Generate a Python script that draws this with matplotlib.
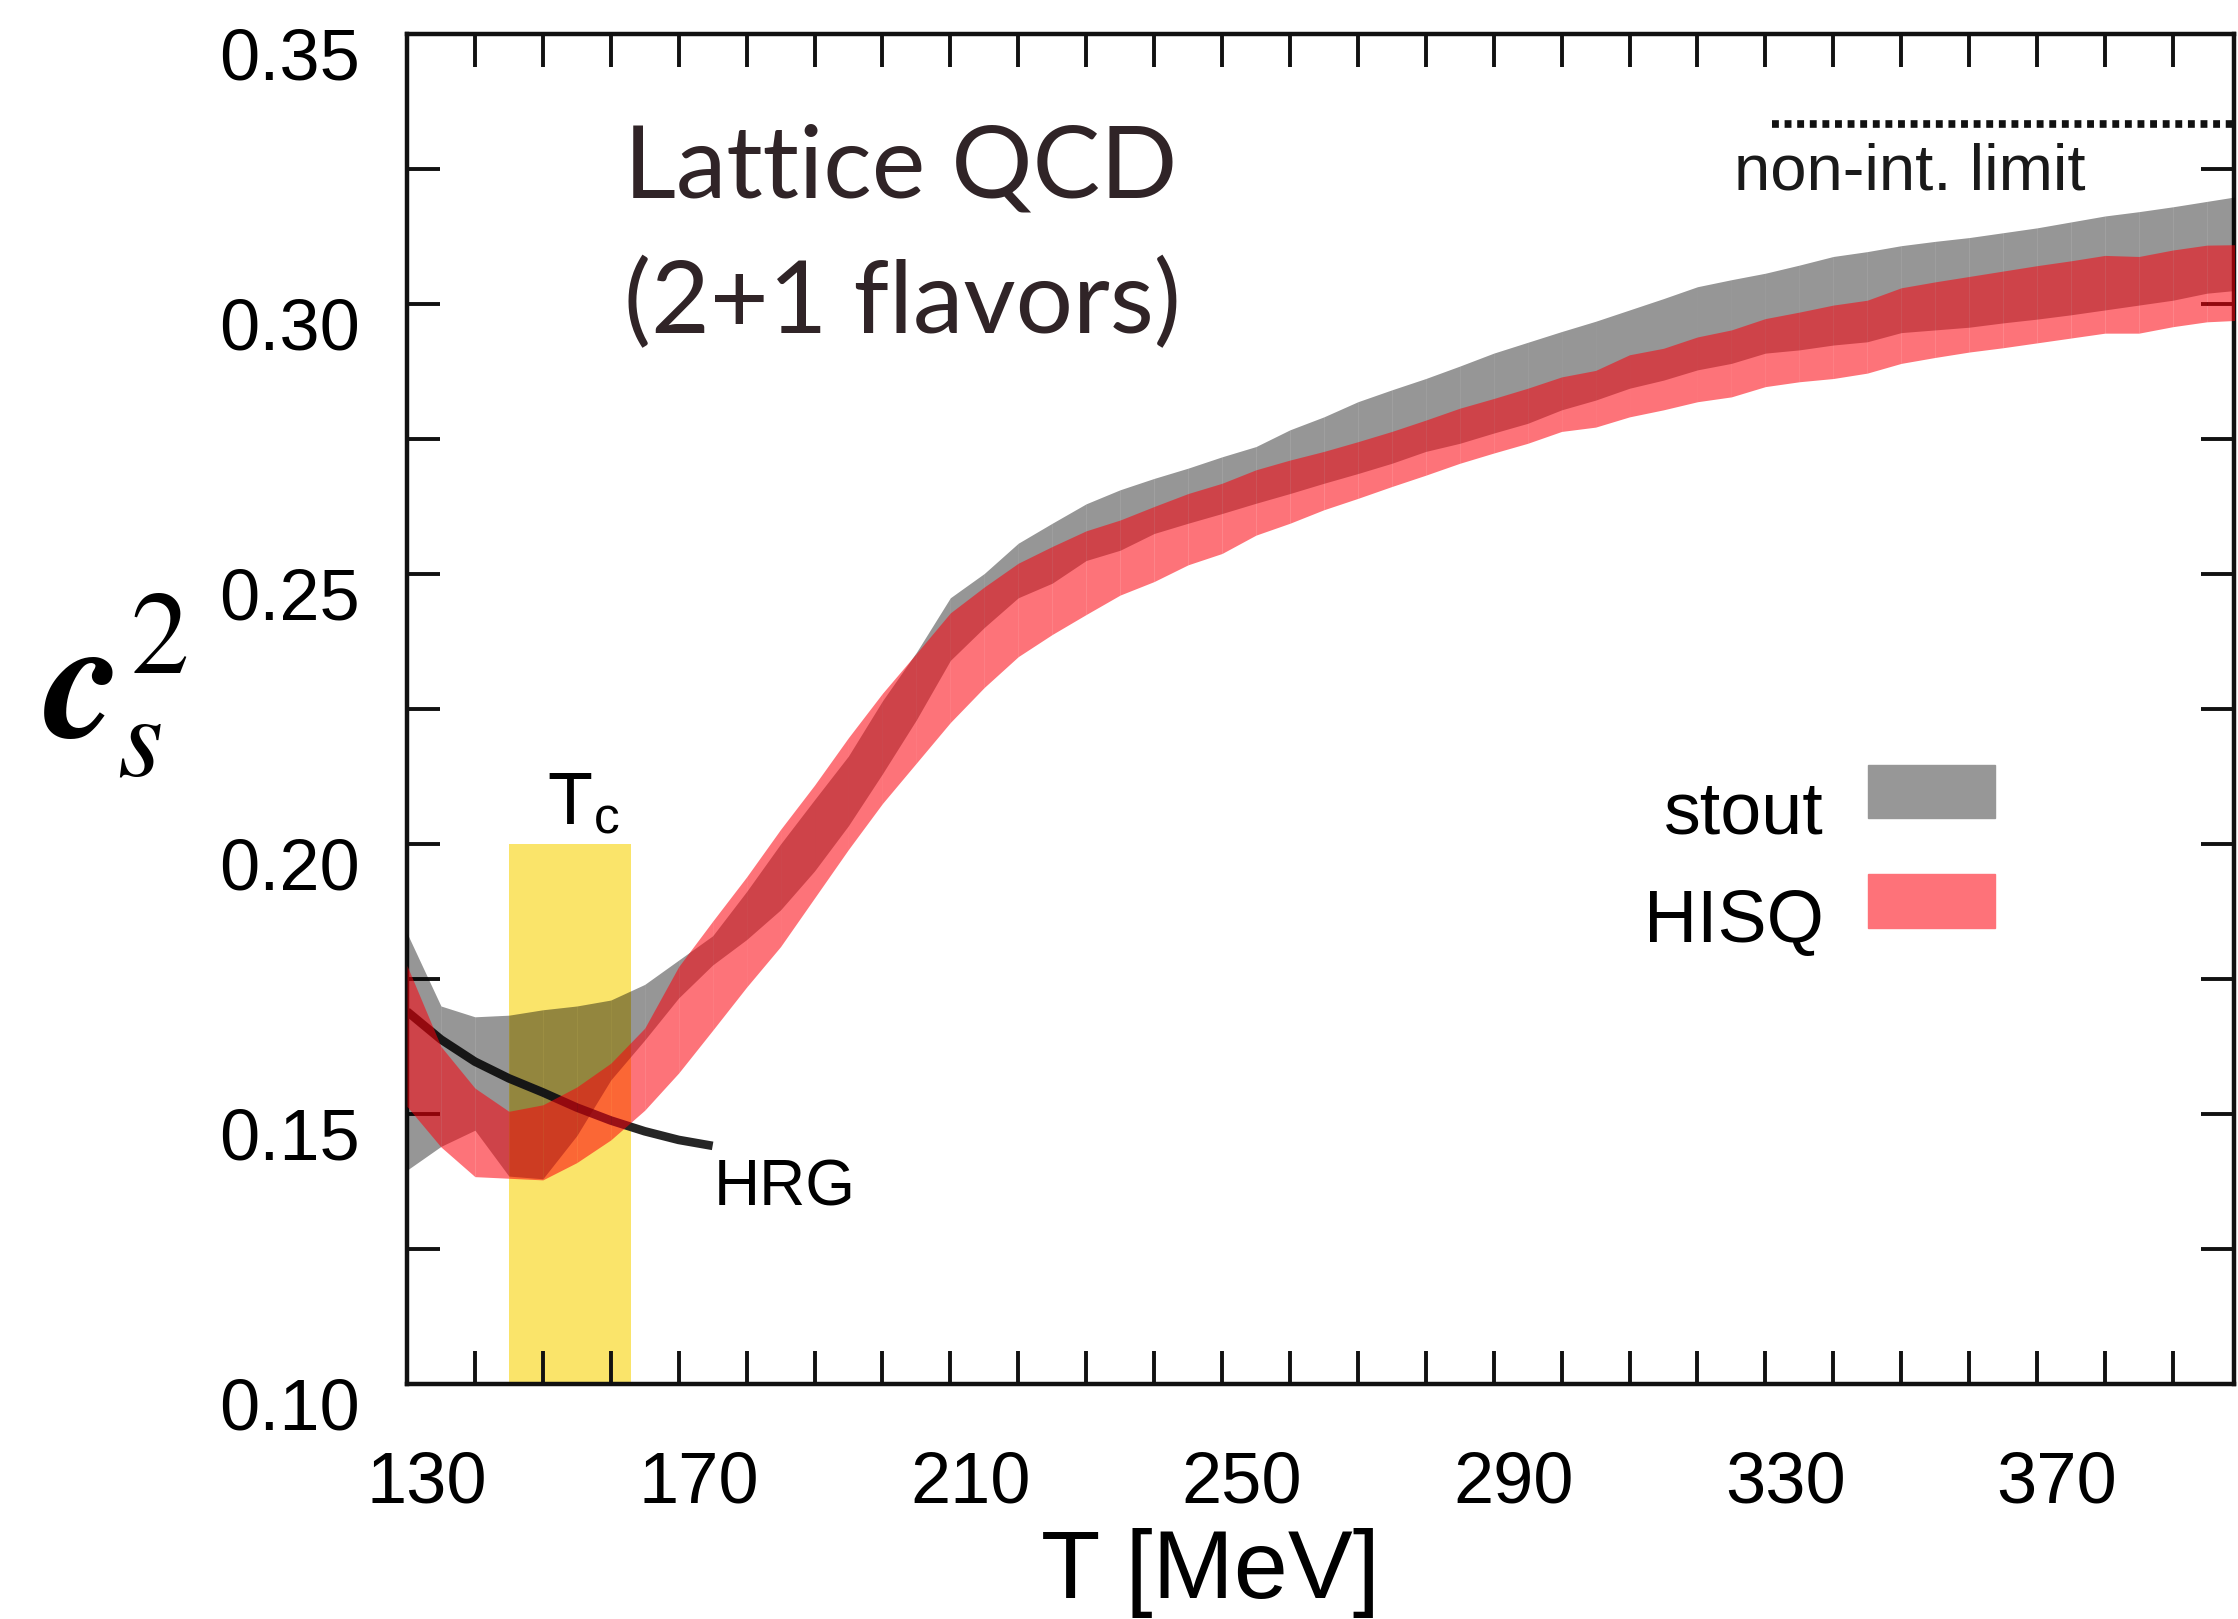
import matplotlib
matplotlib.use("Agg")
import matplotlib.pyplot as plt
from matplotlib.ticker import MultipleLocator, FixedLocator
from matplotlib.transforms import ScaledTranslation

# temperature grid of the lattice bands [MeV]
temps = [130, 135, 140, 145, 150, 155, 160, 165, 170, 175,
         180, 185, 190, 195, 200, 205, 210, 215, 220, 225,
         230, 235, 240, 245, 250, 255, 260, 265, 270, 275,
         280, 285, 290, 295, 300, 305, 310, 315, 320, 325,
         330, 335, 340, 345, 350, 355, 360, 365, 370, 375,
         380, 385, 390, 395, 400]

# stout action band (lower / upper edge of c_s^2)
stout_lo = [0.1396, 0.1440, 0.1470, 0.1385, 0.1380, 0.1460, 0.1563, 0.1637, 0.1715, 0.1776,
            0.1823, 0.1878, 0.1950, 0.2034, 0.2130, 0.2230, 0.2340, 0.2401, 0.2456, 0.2483,
            0.2525, 0.2544, 0.2575, 0.2594, 0.2612, 0.2631, 0.2649, 0.2668, 0.2686, 0.2705,
            0.2727, 0.2742, 0.2761, 0.2779, 0.2804, 0.2822, 0.2844, 0.2859, 0.2878, 0.2890,
            0.2909, 0.2915, 0.2924, 0.2930, 0.2947, 0.2952, 0.2957, 0.2965, 0.2972, 0.2980,
            0.2989, 0.2998, 0.3007, 0.3020, 0.3026]
stout_hi = [0.1835, 0.1700, 0.1680, 0.1683, 0.1693, 0.1700, 0.1711, 0.1740, 0.1785, 0.1830,
            0.1912, 0.2000, 0.2082, 0.2163, 0.2265, 0.2355, 0.2456, 0.2501, 0.2557, 0.2594,
            0.2630, 0.2656, 0.2677, 0.2696, 0.2717, 0.2736, 0.2767, 0.2791, 0.2819, 0.2841,
            0.2862, 0.2885, 0.2909, 0.2929, 0.2949, 0.2968, 0.2989, 0.3010, 0.3032, 0.3045,
            0.3057, 0.3072, 0.3088, 0.3097, 0.3108, 0.3116, 0.3123, 0.3132, 0.3141, 0.3152,
            0.3163, 0.3171, 0.3180, 0.3190, 0.3200]

# HISQ action band
hisq_lo = [0.1514, 0.1439, 0.1384, 0.1381, 0.1378, 0.1410, 0.1452, 0.1507, 0.1576, 0.1655,
           0.1735, 0.1810, 0.1900, 0.1990, 0.2075, 0.2150, 0.2225, 0.2290, 0.2347, 0.2388,
           0.2425, 0.2461, 0.2486, 0.2517, 0.2538, 0.2572, 0.2594, 0.2619, 0.2640, 0.2662,
           0.2683, 0.2705, 0.2724, 0.2742, 0.2764, 0.2772, 0.2791, 0.2804, 0.2819, 0.2828,
           0.2847, 0.2856, 0.2862, 0.2872, 0.2890, 0.2901, 0.2911, 0.2919, 0.2928, 0.2937,
           0.2946, 0.2946, 0.2958, 0.2967, 0.2970]
hisq_hi = [0.1775, 0.1625, 0.1548, 0.1505, 0.1517, 0.1550, 0.1594, 0.1659, 0.1773, 0.1857,
           0.1939, 0.2027, 0.2109, 0.2197, 0.2279, 0.2353, 0.2428, 0.2476, 0.2520, 0.2551,
           0.2580, 0.2600, 0.2625, 0.2649, 0.2668, 0.2693, 0.2711, 0.2727, 0.2745, 0.2764,
           0.2785, 0.2807, 0.2825, 0.2844, 0.2865, 0.2877, 0.2906, 0.2918, 0.2939, 0.2952,
           0.2973, 0.2985, 0.2998, 0.3007, 0.3030, 0.3041, 0.3051, 0.3061, 0.3071, 0.3080,
           0.3090, 0.3088, 0.3100, 0.3109, 0.3110]

# hadron resonance gas curve
hrg_T = [130, 135, 140, 145, 150, 155, 160, 165, 170, 175]
hrg_cs2 = [0.1690, 0.1638, 0.1597, 0.1566, 0.1540, 0.1512, 0.1488, 0.1468, 0.1452, 0.1441]

# crossover region T_c = 154 +- 9 MeV
tc_range = [145, 163]
tc_band_top = 0.20

# Stefan-Boltzmann value
nonint_limit = 1.0 / 3.0
nonint_T = [331, 400]

x_ticks = [130, 170, 210, 250, 290, 330, 370]
y_ticks = [0.10, 0.15, 0.20, 0.25, 0.30, 0.35]

W, H = 2238, 1619


def fx(px):
    return px / W


def fy(py):
    return 1.0 - py / H


plt.rcParams["font.family"] = ["Liberation Sans", "DejaVu Sans"]
plt.rcParams["mathtext.fontset"] = "stix"

fig = plt.figure(figsize=(W / 100, H / 100), dpi=100)
ax = fig.add_axes([fx(407), fy(1384), (2234 - 407) / W, (1384 - 34) / H])

ax.fill_between(tc_range, [0.10, 0.10], [tc_band_top, tc_band_top],
                color="#fae46a", lw=0, zorder=1)
ax.plot(hrg_T, hrg_cs2, color="#262626", lw=6.2, solid_capstyle="butt", zorder=2)

# bands drawn slab by slab, which leaves faint seams between the 5 MeV pieces
for i in range(len(temps) - 1):
    ax.fill_between(temps[i:i + 2], stout_lo[i:i + 2], stout_hi[i:i + 2],
                    color="black", alpha=0.41, lw=0, zorder=3)
for i in range(len(temps) - 1):
    ax.fill_between(temps[i:i + 2], hisq_lo[i:i + 2], hisq_hi[i:i + 2],
                    color=(0.992, 0.0, 0.043), alpha=0.55, lw=0, zorder=4)

ax.plot(nonint_T, [nonint_limit, nonint_limit], color="#111111", lw=5.5,
        dashes=(0.9, 0.75), dash_capstyle="butt", zorder=5)

ax.set_xlim(130, 399)
ax.set_ylim(0.10, 0.35)
ax.xaxis.set_major_locator(FixedLocator(x_ticks))
ax.xaxis.set_minor_locator(MultipleLocator(10))
ax.yaxis.set_major_locator(FixedLocator(y_ticks))
ax.yaxis.set_minor_locator(MultipleLocator(0.025))
ax.set_xticklabels([str(t) for t in x_ticks])
ax.set_yticklabels([f"{v:.2f}" for v in y_ticks])

for side in ax.spines.values():
    side.set_linewidth(3.2)
    side.set_color("#111111")
ax.tick_params(which="both", direction="in", top=True, right=True,
               length=24, width=2.8, color="#111111")
ax.tick_params(axis="x", which="major", labelsize=52, pad=48)
ax.tick_params(axis="y", which="major", labelsize=52, pad=34)

# the numbers sit a little off their ticks
for tick in ax.xaxis.get_major_ticks():
    tick.label1.set_transform(tick.label1.get_transform()
                              + ScaledTranslation(0.20, 0, fig.dpi_scale_trans))
for tick in ax.yaxis.get_major_ticks():
    tick.label1.set_transform(tick.label1.get_transform()
                              + ScaledTranslation(0, -0.19, fig.dpi_scale_trans))

fig.text(fx(1210), fy(1598), "T [MeV]", fontsize=70, ha="center", va="baseline")

# c_s^2 built from pieces: a big bold italic c with smaller s and 2
fig.text(fx(44), fy(737), r"$\mathbfit{c}$", fontsize=124, va="baseline")
fig.text(fx(117), fy(776), r"$s$", fontsize=84, va="baseline")
fig.text(fx(130), fy(673), r"$2$", fontsize=84, va="baseline")

fig.text(fx(624), fy(197), "Lattice QCD", family="Lato", fontsize=73,
         color="#302427", va="baseline")
fig.text(fx(624), fy(333), "(2+1 flavors)", family="Lato", fontsize=73,
         color="#302427", va="baseline")

fig.text(fx(1734), fy(190), "non-int. limit", fontsize=47, color="#1a1a1a",
         va="baseline")
fig.text(fx(547), fy(825), r"T$_{\mathregular{c}}$", fontsize=53, va="baseline")
fig.text(fx(714), fy(1206), "HRG", fontsize=46, va="baseline")

# legend
fig.text(fx(1824), fy(833), "stout", fontsize=53, ha="right", va="baseline")
fig.text(fx(1824), fy(942), "HISQ", fontsize=53, ha="right", va="baseline")
fig.patches.append(plt.Rectangle((fx(1868), fy(818)), 127 / W, 53 / H,
                                 transform=fig.transFigure, color="#979797"))
fig.patches.append(plt.Rectangle((fx(1868), fy(928)), 127 / W, 54 / H,
                                 transform=fig.transFigure, color="#fe7279"))

fig.savefig("out.png", dpi=100)
